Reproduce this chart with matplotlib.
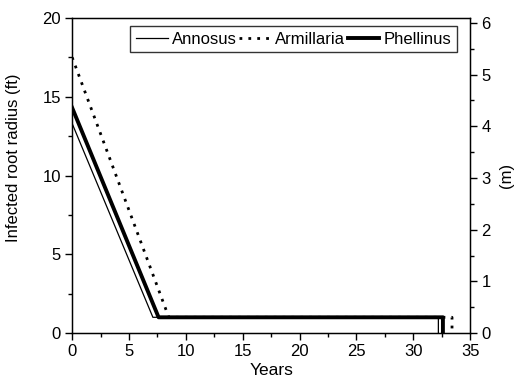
import matplotlib
matplotlib.use("Agg")
import matplotlib.pyplot as plt
from matplotlib.ticker import MultipleLocator

plt.rcParams['font.family'] = ['Liberation Sans', 'DejaVu Sans']
plt.rcParams['font.size'] = 12

# Data (years, infected root radius in ft)
annosus_x = [0, 7.1, 32.2, 32.2]
annosus_y = [13.3, 1.0, 1.0, 0.0]
armillaria_x = [0, 8.5, 33.4, 33.4]
armillaria_y = [17.5, 1.0, 1.0, 0.0]
phellinus_x = [0, 7.6, 32.6, 32.6]
phellinus_y = [14.3, 1.0, 1.0, 0.0]

FT_PER_M = 3.28084

fig = plt.figure(figsize=(5.19, 3.90), dpi=100)
ax = fig.add_axes([0.139, 0.146, 0.767, 0.808])

ax.plot(annosus_x, annosus_y, color='black', lw=0.9, label='Annosus')
ax.plot(armillaria_x, armillaria_y, color='black', lw=2.0, ls=(0, (1, 2.2)), label='Armillaria')
ax.plot(phellinus_x, phellinus_y, color='black', lw=2.8, label='Phellinus')

ax.set_xlim(0, 35)
ax.set_ylim(0, 20)
ax.xaxis.set_major_locator(MultipleLocator(5))
ax.xaxis.set_minor_locator(MultipleLocator(2.5))
ax.yaxis.set_major_locator(MultipleLocator(5))
ax.yaxis.set_minor_locator(MultipleLocator(2.5))
ax.tick_params(which='major', direction='out', length=5, width=1, pad=3)
ax.tick_params(which='minor', direction='out', length=3, width=1)
ax.set_xlabel('Years', fontsize=12.5, labelpad=3)
ax.set_ylabel('Infected root radius (ft)', fontsize=12)
ax.yaxis.set_label_coords(-0.128, 0.556)
for s in ax.spines.values():
    s.set_linewidth(1)

ax2 = ax.twinx()
ax2.set_ylim(0, 20 / FT_PER_M)
ax2.yaxis.set_major_locator(MultipleLocator(1))
ax2.yaxis.set_minor_locator(MultipleLocator(0.5))
ax2.tick_params(which='major', direction='out', length=5, width=1, pad=3)
ax2.tick_params(which='minor', direction='out', length=3, width=1)
ax2.set_ylabel('(m)', fontsize=12, rotation=90, labelpad=6)

leg = ax.legend(loc='upper right', bbox_to_anchor=(0.967, 0.975), borderaxespad=0,
                ncol=3, frameon=True, fancybox=False,
                edgecolor='black', handlelength=1.9, handletextpad=0.25,
                columnspacing=0.15, borderpad=0.35)
leg.get_frame().set_linewidth(1)

fig.savefig('out.png', dpi=100)
